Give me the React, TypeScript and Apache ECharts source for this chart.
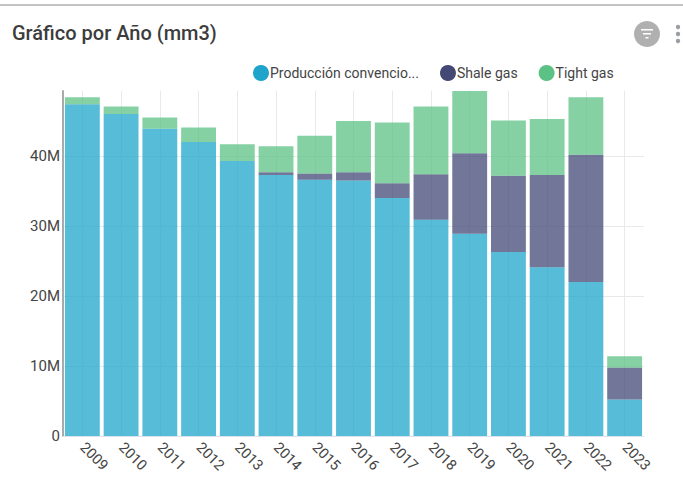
import React, { useEffect, useRef } from "react";
import * as echarts from "echarts";

const years = ["2009","2010","2011","2012","2013","2014","2015","2016","2017","2018","2019","2020","2021","2022","2023"];
const conventional = [47.4,46,43.9,42,39.3,37.3,36.6,36.5,34,30.9,28.9,26.3,24.1,22,5.2];
const shale = [0,0,0,0,0,0.4,0.9,1.2,2.1,6.5,11.5,10.9,13.2,18.2,4.6];
const tight = [1,1.1,1.6,2.1,2.4,3.7,5.4,7.3,8.7,9.7,8.9,7.9,8,8.2,1.6];
const halfSteps = Array.from({ length: years.length * 2 + 1 }, (_, i) => String(i));
const FONT = "Roboto";
const M = 1000000;

echarts.graphic.registerShape(
  "funnelGlyph",
  echarts.graphic.extendPath("M0 0H12V1.6H0ZM2 4H10V5.6H2ZM4.5 8H7.5V9.6H4.5Z", {}) as any
);

export default function App() {
  const ref = useRef<HTMLDivElement>(null);
  useEffect(() => {
    document.body.style.margin = "0";
    const chart = echarts.init(ref.current!, undefined, { renderer: "svg" });
    const mk = (name: string, data: number[], color: string) => ({
      name, type: "bar", stack: "t", data: data.map((v) => v * M),
      barCategoryGap: "10%",
      itemStyle: { color, opacity: 0.75 },
    });
    chart.setOption({
      animation: false,
      backgroundColor: "#fff",
      grid: { left: 63, right: 39, top: 91, bottom: 53 },
      legend: {
        top: 60, left: 248, icon: "circle", itemWidth: 16, itemHeight: 16, itemGap: 21,
        data: ["Producción convencional", "Shale gas", "Tight gas"],
        itemStyle: { opacity: 1 },
        textStyle: { fontFamily: FONT, fontSize: 14, color: "#444", padding: [0, 0, 0, -4] },
        formatter: (n: string) => (n.length > 22 ? n.slice(0, 20) + "..." : n),
      },
      xAxis: [
        {
          type: "category", data: years,
          axisLine: { lineStyle: { color: "#dde3ec", width: 1 } },
          axisTick: { show: false },
          splitLine: { show: false },
          axisLabel: { rotate: -45, interval: 0, fontFamily: FONT, fontSize: 14.5, color: "#444", margin: 9 },
        },
        {
          type: "category", data: halfSteps, boundaryGap: false, position: "bottom",
          axisLine: { show: false }, axisTick: { show: false }, axisLabel: { show: false },
          splitLine: { show: true, interval: (i: number) => i % 2 === 1, lineStyle: { color: "#e9e9e9", width: 1 } },
        },
      ],
      yAxis: {
        type: "value", min: 0, max: 49.3 * M, interval: 10 * M,
        axisLine: { show: true, lineStyle: { color: "#aaa", width: 2 } },
        axisTick: { show: false },
        splitLine: { show: true, showMaxLine: false, lineStyle: { color: "#e9e9e9", width: 1 } } as any,
        axisLabel: {
          showMaxLabel: false, fontFamily: FONT, fontSize: 15, color: "#444", margin: 3,
          formatter: (v: number) => (v === 0 ? "0" : v / M + "M"),
        },
      },
      series: [
        mk("Producción convencional", conventional, "#1fa5cb"),
        mk("Shale gas", shale, "#434875"),
        mk("Tight gas", tight, "#5cc184"),
      ],
      graphic: [
        { type: "line", shape: { x1: 0, y1: 5, x2: 683, y2: 5 }, style: { stroke: "#888", lineWidth: 1 } },
        { type: "text", x: 12, y: 23, style: { text: "Gráfico por Año (mm3)", fontFamily: FONT, fontSize: 20, fontWeight: 500, fill: "#3c3c3c" } },
        { type: "circle", shape: { cx: 647, cy: 34, r: 13 }, style: { fill: "#b0b0b0" } },
        { type: "funnelGlyph", x: 641, y: 29, style: { fill: "#fff" } },
        { type: "circle", shape: { cx: 678, cy: 27, r: 2.2 }, style: { fill: "#9a9fa6" } },
        { type: "circle", shape: { cx: 678, cy: 34, r: 2.2 }, style: { fill: "#9a9fa6" } },
        { type: "circle", shape: { cx: 678, cy: 41, r: 2.2 }, style: { fill: "#9a9fa6" } },
      ],
    });
    return () => chart.dispose();
  }, []);
  return <div ref={ref} style={{ width: 683, height: 489 }} />;
}
